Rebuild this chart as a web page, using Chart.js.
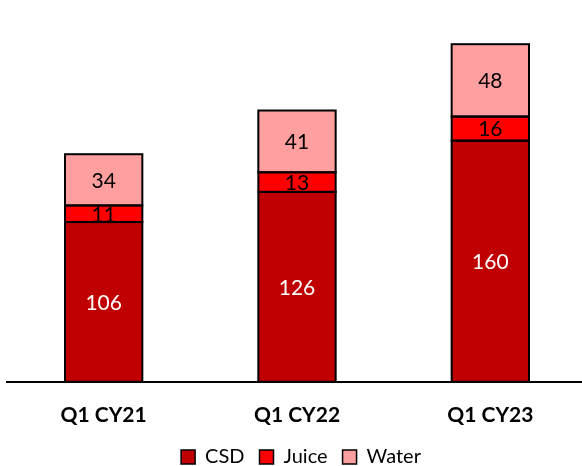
<!DOCTYPE html>
<html>
<head>
<meta charset="utf-8">
<script src="https://cdn.jsdelivr.net/npm/chart.js@4/dist/chart.umd.min.js"></script>
<style>
  html, body { margin: 0; padding: 0; background: #fff; overflow: hidden; }
  #wrap { width: 590px; height: 486px; }
</style>
</head>
<body>
<div id="wrap"><canvas id="c" width="590" height="486"></canvas></div>
<script>
// Quarterly volume by beverage segment
const quarters = ['Q1 CY21', 'Q1 CY22', 'Q1 CY23'];
const csd = [106, 126, 160];
const juice = [11, 13, 16];
const water = [34, 41, 48];

// Outlines every bar piece and writes its value in the middle
const segmentLabels = {
  id: 'segmentLabels',
  afterDatasetsDraw(chart) {
    const ctx = chart.ctx;
    ctx.save();
    ctx.strokeStyle = '#000000';
    ctx.lineWidth = 2;
    chart.data.datasets.forEach((ds, i) => {
      chart.getDatasetMeta(i).data.forEach(bar => {
        const p = bar.getProps(['x', 'y', 'base', 'width'], true);
        ctx.strokeRect(p.x - p.width / 2, p.y, p.width, p.base - p.y);
      });
    });
    ctx.font = '21px Lato';
    ctx.textAlign = 'center';
    ctx.textBaseline = 'middle';
    chart.data.datasets.forEach((ds, i) => {
      chart.getDatasetMeta(i).data.forEach((bar, j) => {
        const p = bar.getProps(['x', 'y', 'base'], true);
        ctx.fillStyle = ds.labelColor;
        ctx.fillText(String(ds.data[j]), p.x, (p.y + p.base) / 2 + 1);
      });
    });
    ctx.restore();
  }
};

// Pulls the legend row a little closer to the category labels
const legendNudge = {
  id: 'legendNudge',
  afterLayout(chart) {
    const lg = chart.legend;
    if (!lg) return;
    lg.top -= 9; lg.bottom -= 9;
    lg.left += 4; lg.right += 4;
  }
};

new Chart(document.getElementById('c'), {
  type: 'bar',
  data: {
    labels: quarters,
    datasets: [
      { label: 'CSD', data: csd, backgroundColor: '#C00000', labelColor: '#FFFFFF' },
      { label: 'Juice', data: juice, backgroundColor: '#FF0000', labelColor: '#000000' },
      { label: 'Water', data: water, backgroundColor: '#FF9F9F', labelColor: '#000000' }
    ].map(d => Object.assign(d, {
      borderWidth: 0,
      barPercentage: 0.4,
      categoryPercentage: 1.0
    }))
  },
  options: {
    responsive: false,
    animation: false,
    devicePixelRatio: 1,
    layout: { padding: { left: 7, right: 3, top: 5, bottom: 0 } },
    scales: {
      x: {
        stacked: true,
        grid: { display: false },
        border: { display: true, color: '#000000', width: 2, z: 1 },
        ticks: { color: '#000000', font: { family: 'Lato', size: 21, weight: 'bold' }, padding: 13 }
      },
      y: {
        stacked: true,
        display: false,
        min: 0,
        max: 250
      }
    },
    plugins: {
      legend: {
        position: 'bottom',
        labels: {
          color: '#000000',
          font: { family: 'Lato', size: 20 },
          boxWidth: 14,
          boxHeight: 14,
          padding: 15,
          generateLabels(chart) {
            return Chart.defaults.plugins.legend.labels.generateLabels(chart).map(item =>
              Object.assign(item, { strokeStyle: '#000000', lineWidth: 1.5 }));
          }
        }
      },
      tooltip: { enabled: false }
    }
  },
  plugins: [segmentLabels, legendNudge]
});
</script>
</body>
</html>
